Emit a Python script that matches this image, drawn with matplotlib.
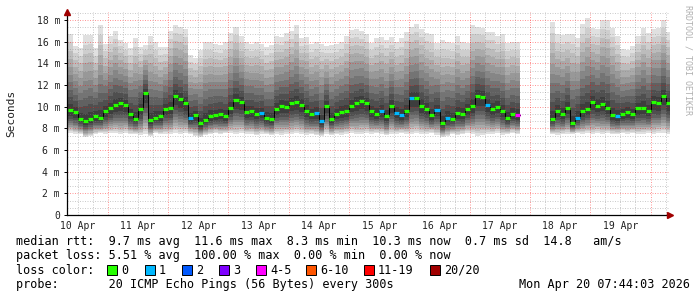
import numpy as np
import matplotlib
matplotlib.use("Agg")
import matplotlib.pyplot as plt
from matplotlib.patches import Rectangle

plt.rcParams['font.family'] = ['DejaVu Sans Mono']

# time in hours since 10 Apr 00:00; window ends Mon Apr 20 07:44:03
start_h = 7 + 44 / 60 + 3 / 3600
end_h = start_h + 240
bin_w = 2.0
first_bin = 8.0

day_labels = ['10 Apr', '11 Apr', '12 Apr', '13 Apr', '14 Apr',
              '15 Apr', '16 Apr', '17 Apr', '18 Apr', '19 Apr']

nan = np.nan
# median rtt per 2h bin (ms)
median = [9.7, 9.5, 8.9, 8.7, 8.9, 9.1, 9.0, 9.6, 9.85, 10.2,
          10.3, 10.2, 9.3, 8.9, 9.8, 11.3, 8.8, 9.0, 9.1, 9.8,
          9.9, 11.0, 10.7, 10.3, 9.0, 9.2, 8.45, 8.8, 9.1, 9.2,
          9.3, 9.1, 9.9, 10.6, 10.4, 9.5, 9.6, 9.3, 9.4, 8.95,
          8.9, 9.8, 10.1, 10.0, 10.3, 10.4, 10.2, 9.6, 9.3, 9.4,
          8.7, 10.1, 8.9, 9.3, 9.5, 9.6, 10.1, 10.3, 10.5, 10.3,
          9.6, 9.3, 9.6, 9.1, 10.1, 9.4, 9.2, 9.6, 10.8, 10.8,
          10.1, 9.8, 9.2, 9.7, 8.5, 9.0, 8.9, 9.4, 9.3, 9.8,
          10.1, 11.0, 10.9, 10.2, 9.8, 10.0, 9.6, 9.0, 9.3, 9.2,
          nan, nan, nan, nan, nan, nan, 8.9, 9.6, 9.3, 9.9,
          8.5, 9.0, 9.6, 9.8, 10.4, 10.1, 10.25, 9.9, 9.2, 9.1,
          9.3, 9.5, 9.3, 9.85, 9.9, 9.6, 10.4, 10.3, 11.0, 10.3]

# slowest ping per bin (ms)
smoke_hi = [16.7, 15.6, 15.4, 16.6, 16.6, 15.4, 17.5, 15.8, 16.5, 17.0,
            16.2, 15.9, 15.4, 16.3, 15.5, 15.7, 16.5, 16.0, 15.5, 15.5,
            17.0, 17.5, 17.4, 17.2, 14.8, 14.5, 15.2, 16.0, 16.0, 15.8,
            15.7, 16.0, 16.8, 17.4, 16.5, 16.0, 15.8, 16.0, 15.8, 15.5,
            15.7, 16.5, 16.4, 16.8, 17.0, 17.5, 16.3, 16.4, 15.8, 16.0,
            15.8, 15.6, 15.7, 15.8, 16.0, 16.5, 17.1, 17.2, 17.0, 16.7,
            15.9, 16.3, 16.4, 16.2, 16.4, 16.0, 16.3, 16.9, 17.4, 17.6,
            17.2, 16.8, 16.7, 15.9, 16.2, 16.0, 15.9, 16.5, 16.0, 15.9,
            17.5, 17.4, 17.3, 16.9, 16.9, 16.5, 16.7, 15.9, 16.0, 16.0,
            nan, nan, nan, nan, nan, nan, 17.8, 16.7, 16.6, 16.7,
            16.7, 16.3, 17.6, 18.2, 17.3, 17.2, 18.0, 18.0, 17.3, 16.5,
            15.3, 15.2, 15.6, 16.5, 17.3, 16.8, 17.2, 17.3, 18.0, 16.9]

# fastest ping per bin (ms)
smoke_lo = [7.6, 7.5, 7.5, 7.2, 7.3, 7.5, 7.6, 7.5, 7.6, 7.6,
            7.5, 7.6, 7.5, 7.5, 7.4, 7.5, 7.3, 7.6, 7.5, 7.5,
            7.5, 7.6, 7.5, 7.6, 7.5, 7.3, 7.2, 7.4, 7.5, 7.6,
            7.5, 7.6, 7.6, 7.5, 7.6, 7.5, 7.5, 7.4, 7.5, 7.5,
            7.4, 7.5, 7.4, 7.5, 7.5, 7.6, 7.5, 7.4, 7.5, 7.4,
            7.3, 7.5, 7.4, 7.5, 7.4, 7.5, 7.6, 7.5, 7.5, 7.6,
            7.5, 7.6, 7.5, 7.4, 7.5, 7.5, 7.6, 7.5, 7.5, 7.6,
            7.5, 7.5, 7.6, 7.4, 7.2, 7.3, 7.5, 7.4, 7.5, 7.6,
            7.5, 7.3, 7.4, 7.5, 7.5, 7.6, 7.4, 7.5, 7.6, 7.5,
            nan, nan, nan, nan, nan, nan, 7.5, 7.4, 7.5, 7.5,
            7.5, 7.6, 7.5, 7.6, 7.5, 7.6, 7.5, 7.6, 7.5, 7.5,
            7.6, 7.5, 7.6, 7.5, 7.5, 7.6, 7.5, 7.6, 7.6, 7.5]

# lost pings per bin (of 20)
loss = [0] * 120
for i in [24, 38, 49, 50, 62, 65, 66, 68, 73, 75, 83, 101, 109]:
    loss[i] = 1
loss[89] = 4

loss_labels = ['0', '1', '2', '3', '4-5', '6-10', '11-19', '20/20']
loss_colors = ['#26ff00', '#00b8ff', '#0059ff', '#7e00ff',
               '#ff00ff', '#ff5500', '#ff0000', '#a10000']


def loss_color(n):
    if n <= 3:
        return loss_colors[n]
    if n <= 5:
        return loss_colors[4]
    if n <= 10:
        return loss_colors[5]
    if n <= 19:
        return loss_colors[6]
    return loss_colors[7]


med = np.array(median)
hi = np.array(smoke_hi)
lo = np.array(smoke_lo)
t = first_bin + bin_w * (np.arange(len(med)) + 0.5)
ok = ~np.isnan(med)

W, H = 697, 297
fig = plt.figure(figsize=(W / 100, H / 100), dpi=100)
fig.patch.set_facecolor('white')
ax = fig.add_axes([67 / W, 82 / H, 603 / W, 203 / H])
ax.set_xlim(start_h, end_h)
ax.set_ylim(0, 203 / 10.833)

# smoke: stacked grey bands, darkest nearest the median
n_layers = 10
for k in range(n_layers, 0, -1):
    f = k / n_layers
    up = med[ok] + (hi[ok] - med[ok]) * f ** 1.1
    dn = med[ok] - (med[ok] - lo[ok]) * f ** 0.6
    shade = 0.24 + 0.64 * (k - 1) / (n_layers - 1)
    ax.bar(t[ok], up - dn, bottom=dn, width=bin_w, color=str(shade),
           linewidth=0, zorder=1)

# grid
dots = (0, (1, 1.5))
for v in np.arange(2 / 3, 18.7, 2 / 3):
    if abs(v / 2 - round(v / 2)) > 0.05:
        ax.axhline(v, color=(0.5, 0.5, 0.5, 0.4), lw=0.72, ls=dots, zorder=2)
for v in np.arange(2, 19, 2):
    ax.axhline(v, color=(1, 0, 0, 0.4), lw=0.72, ls=dots, zorder=2)
for h in np.arange(12, end_h, 6):
    if h % 24:
        ax.axvline(h, color=(0.5, 0.5, 0.5, 0.4), lw=0.72, ls=dots, zorder=2)
for h in np.arange(24, end_h, 24):
    ax.axvline(h, color=(1, 0, 0, 0.4), lw=0.72, ls=dots, zorder=2)

# median line and loss-coloured marks
ax.step(t, med, where='mid', color='black', lw=0.7, zorder=3)
ax.hlines(med[ok], t[ok] - bin_w / 2, t[ok] + bin_w / 2,
          colors=[loss_color(n) for n, g in zip(loss, ok) if g],
          lw=2.3, zorder=4)

# axes
for s in ['top', 'right']:
    ax.spines[s].set_visible(False)
for s in ['left', 'bottom']:
    ax.spines[s].set_color('black')
    ax.spines[s].set_linewidth(0.9)
ax.set_yticks(np.arange(0, 19, 2))
ax.set_yticklabels(['0'] + ['%d m' % v for v in range(2, 19, 2)])
ax.set_xticks(np.arange(12, 240, 24))
ax.set_xticklabels(day_labels)
ax.tick_params(axis='y', length=2, width=0.7, pad=3, labelsize=7, labelcolor='#222222')
ax.tick_params(axis='x', length=0, pad=4, labelsize=7, labelcolor='#222222')
ax.plot([0], [1], transform=ax.transAxes, marker='^', ms=4.5, color='#a00000',
        clip_on=False, zorder=6)
ax.plot([1], [0], transform=ax.transAxes, marker='>', ms=4.5, color='#a00000',
        clip_on=False, zorder=6)

fig.text(11 / W, 1 - 113 / H, 'Seconds', rotation=90, ha='center', va='center',
         fontsize=8, color='#222222')
fig.text(688 / W, 1 - 60 / H, 'RRDTOOL / TOBI OETIKER', rotation=270,
         ha='center', va='center', fontsize=6, color='#b0b0b0')

fs = 8.5
fig.text(16 / W, 1 - 241 / H,
         'median rtt:  9.7 ms avg  11.6 ms max  8.3 ms min  10.3 ms now  0.7 ms sd  14.8   am/s',
         fontsize=fs, va='center')
fig.text(16 / W, 1 - 256 / H,
         'packet loss: 5.51 % avg  100.00 % max  0.00 % min  0.00 % now',
         fontsize=fs, va='center')
fig.text(16 / W, 1 - 270 / H, 'loss color:', fontsize=fs, va='center')
box_x = [107, 145, 182, 219, 256, 306, 364, 430]
for bx, lab, col in zip(box_x, loss_labels, loss_colors):
    fig.patches.append(Rectangle((bx / W, 1 - 275 / H), 10 / W, 10 / H,
                                 transform=fig.transFigure, facecolor=col,
                                 edgecolor='black', lw=0.7))
    fig.text((bx + 14) / W, 1 - 270 / H, lab, fontsize=fs, va='center')
fig.text(16 / W, 1 - 284.5 / H,
         'probe:       20 ICMP Echo Pings (56 Bytes) every 300s',
         fontsize=fs, va='center')
fig.text(690 / W, 1 - 284.5 / H, 'Mon Apr 20 07:44:03 2026',
         fontsize=fs, va='center', ha='right')

fig.savefig('out.png', dpi=100, facecolor='white')
